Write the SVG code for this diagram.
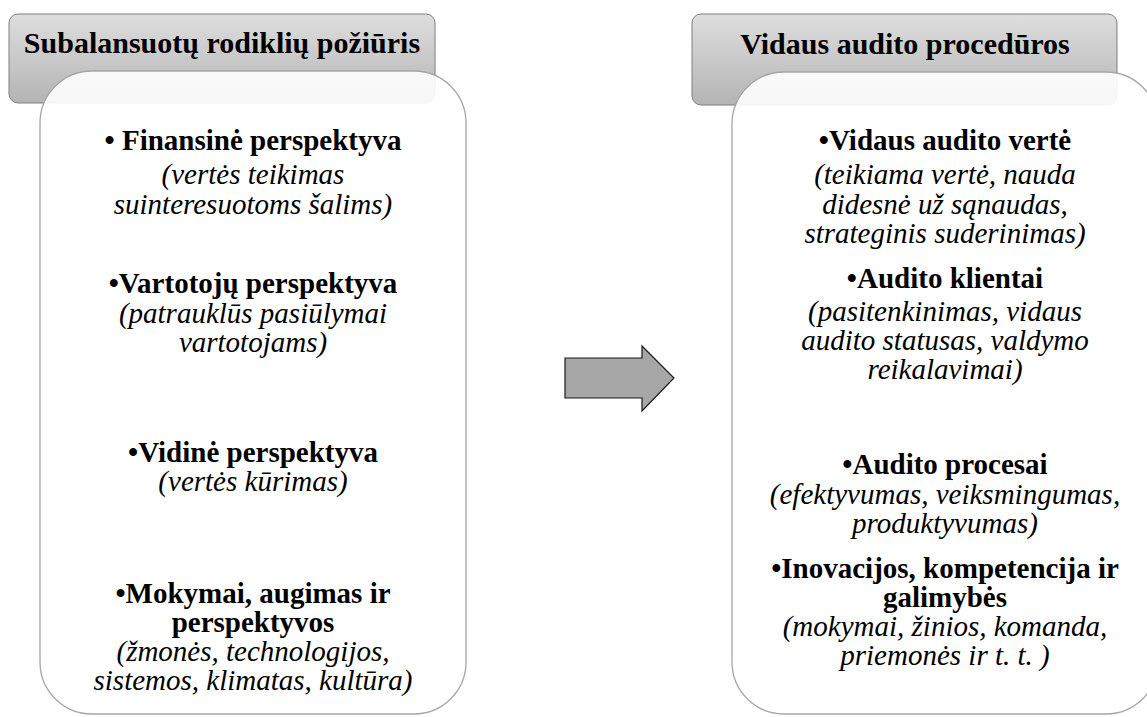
<svg xmlns="http://www.w3.org/2000/svg" width="1147" height="717" viewBox="0 0 1147 717">
<defs>
<linearGradient id="hdr" x1="0" y1="0" x2="0" y2="1">
<stop offset="0" stop-color="#dedede"/>
<stop offset="1" stop-color="#b4b4b4"/>
</linearGradient>
<style>
.hdr{fill:url(#hdr);stroke:#7f7f7f;stroke-width:1}
.body{fill:#ffffff;fill-opacity:0.9;stroke:#a6a6a6;stroke-width:1.3}
text{font-family:'Liberation Serif','Tinos','Times New Roman','Times','Noto Serif','DejaVu Serif','FreeSerif',serif;fill:#000;text-anchor:middle}
.ht{font-weight:bold;font-size:30px}
.b{font-weight:bold;font-size:29px}
.i{font-style:italic;font-size:29px}
.arrow{fill:#a6a6a6;stroke:#1a1a1a;stroke-width:1.2}
</style>
</defs>
<rect width="1147" height="717" fill="#ffffff"/>
<g id="left-header">
<rect class="hdr" x="9" y="14" width="426" height="89" rx="9"/>
<text class="ht" x="222" y="53">Subalansuotų rodiklių požiūris</text>
</g>
<g id="left-body">
<rect class="body" x="40" y="71" width="426" height="643" rx="52"/>
<text class="b" x="253" y="150">• Finansinė perspektyva</text>
<text class="i" x="253" y="184">(vertės teikimas</text>
<text class="i" x="253" y="214">suinteresuotoms šalims)</text>
<text class="b" x="253" y="293">•Vartotojų perspektyva</text>
<text class="i" x="253" y="323">(patrauklūs pasiūlymai</text>
<text class="i" x="253" y="352">vartotojams)</text>
<text class="b" x="253" y="462">•Vidinė perspektyva</text>
<text class="i" x="253" y="491">(vertės kūrimas)</text>
<text class="b" x="253" y="603">•Mokymai, augimas ir</text>
<text class="b" x="253" y="632">perspektyvos</text>
<text class="i" x="253" y="661">(žmonės, technologijos,</text>
<text class="i" x="253" y="690">sistemos, klimatas, kultūra)</text>
</g>
<g id="right-header">
<rect class="hdr" x="692" y="14" width="425" height="91" rx="9"/>
<text class="ht" x="905" y="54">Vidaus audito procedūros</text>
</g>
<g id="right-body">
<rect class="body" x="732" y="72" width="426" height="642" rx="52"/>
<text class="b" x="945" y="150">•Vidaus audito vertė</text>
<text class="i" x="945" y="184">(teikiama vertė, nauda</text>
<text class="i" x="945" y="214">didesnė už sąnaudas,</text>
<text class="i" x="945" y="243">strateginis suderinimas)</text>
<text class="b" x="945" y="288">•Audito klientai</text>
<text class="i" x="945" y="321">(pasitenkinimas, vidaus</text>
<text class="i" x="945" y="350">audito statusas, valdymo</text>
<text class="i" x="945" y="379">reikalavimai)</text>
<text class="b" x="945" y="474">•Audito procesai</text>
<text class="i" x="945" y="504">(efektyvumas, veiksmingumas,</text>
<text class="i" x="945" y="533">produktyvumas)</text>
<text class="b" x="945" y="578">•Inovacijos, kompetencija ir</text>
<text class="b" x="945" y="607">galimybės</text>
<text class="i" x="945" y="636">(mokymai, žinios, komanda,</text>
<text class="i" x="945" y="665">priemonės ir t. t. )</text>
</g>
<g id="connectors">
<path class="arrow" d="M565,358 L642,358 L642,346 L674,378 L642,411 L642,398 L565,398 Z"/>
</g>
</svg>
